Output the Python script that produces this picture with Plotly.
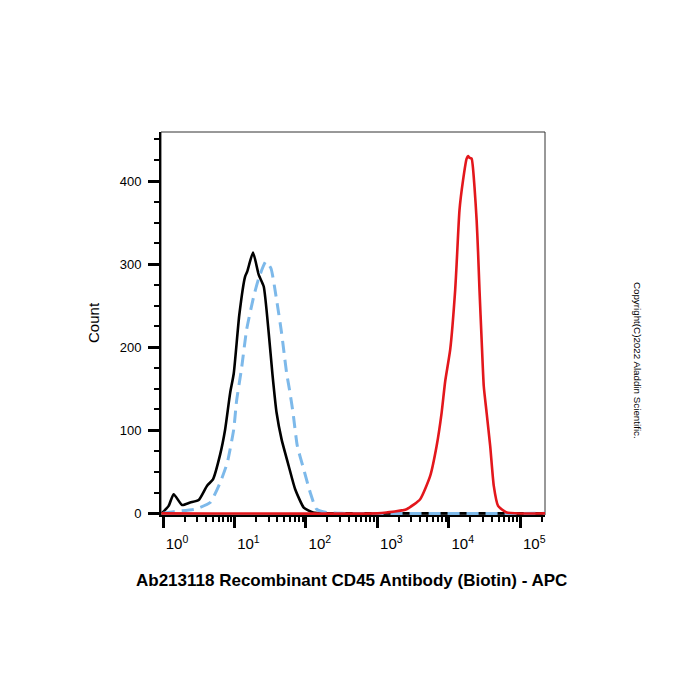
import plotly.graph_objects as go

# ---- data ----
black_x = [0.96, 1.2, 1.41, 1.85, 2.4, 3.16, 4.12, 5.01, 6.31, 7.41, 8.71, 9.77, 11.7, 14.1, 15.1,
           18.2, 21.9, 25.7, 30.2, 34.0, 38.9, 45.7, 57.5, 70.8, 93.3, 126, 200, 1000, 5000, 20000, 224000]
black_y = [0, 9, 23, 10, 13, 16, 33, 41, 71, 101, 145, 168, 239, 285, 291,
           314, 287, 273, 217, 168, 121, 89, 57, 29, 7, 1, 0, 0, 0, 0, 0]

blue_x = [1.0, 1.41, 2.82, 4.57, 6.31, 7.94, 9.77, 10.7, 12.6, 14.8, 18.6, 21.9, 27.5, 32.4,
          38.9, 45.7, 53.7, 58.9, 66.1, 75.9, 93.3, 115, 141, 195, 316, 224000]
blue_y = [0, 2, 5, 13, 37, 61, 101, 135, 175, 221, 261, 283, 303, 295,
          257, 217, 169, 149, 121, 81, 53, 25, 5, 1, 0, 0]

red_x = [0.95, 1000, 1349, 2570, 3981, 5495, 6761, 7943, 8913, 10470, 12300, 12880, 14130, 15850,
         17780, 18620, 19500, 20890, 22910, 24550, 25700, 26920, 28840, 30900, 33880, 38020,
         42660, 48980, 64570, 224000]
red_y = [0, 0, 1, 5, 17, 45, 81, 121, 159, 197, 269, 300, 365, 401,
         427, 430, 428, 427, 393, 353, 315, 269, 209, 153, 121, 81,
         33, 9, 1, 0]

x_tickvals = [1, 10, 100, 1000, 10000, 100000]
x_ticktext = ["10<sup>0</sup>", "10<sup>1</sup>", "10<sup>2</sup>", "10<sup>3</sup>",
              "10<sup>4</sup>", "10<sup>5</sup>"]
x_minor_vals = [m * 10 ** k for k in range(-1, 6) for m in range(2, 10)]
y_tickvals = [0, 100, 200, 300, 400]

x_title = "Ab213118 Recombinant CD45 Antibody (Biotin) - APC"
y_title = "Count"
copyright_text = "Copyright(C)2022 Aladdin Scientific."

FONT = "Liberation Sans, Arial, sans-serif"

fig = go.Figure()
fig.add_trace(go.Scatter(x=black_x, y=black_y, mode="lines",
                         line=dict(color="#000000", width=2.6, shape="spline", smoothing=0.5),
                         showlegend=False))
fig.add_trace(go.Scatter(x=blue_x, y=blue_y, mode="lines",
                         line=dict(color="#7db9ea", width=3, dash="12px,7px",
                                   shape="spline", smoothing=0.5),
                         showlegend=False))
fig.add_trace(go.Scatter(x=red_x, y=red_y, mode="lines",
                         line=dict(color="#e3171c", width=2.6, shape="spline", smoothing=0.5),
                         showlegend=False))

fig.update_layout(
    width=700, height=700,
    margin=dict(l=161, r=155, t=132, b=185),
    paper_bgcolor="white", plot_bgcolor="white",
    font=dict(family=FONT, color="black"),
    xaxis=dict(
        type="log", range=[-0.028, 5.347],
        showline=True, linecolor="black", linewidth=2,
        showgrid=False, zeroline=False,
        tickmode="array", tickvals=x_tickvals, ticktext=x_ticktext,
        ticks="outside", ticklen=11, tickwidth=3, tickcolor="black",
        tickfont=dict(size=15, family=FONT),
        ticklabelshift=14, ticklabelstandoff=3,
        minor=dict(tickmode="array", tickvals=x_minor_vals, ticks="outside",
                   ticklen=5, tickwidth=1.5, tickcolor="black", showgrid=False),
    ),
    yaxis=dict(
        range=[-2, 459],
        showline=True, linecolor="black", linewidth=2,
        showgrid=False, zeroline=False,
        tickmode="array", tickvals=y_tickvals,
        ticks="outside", ticklen=11, tickwidth=3, tickcolor="black",
        tickfont=dict(size=13, family=FONT),
        ticklabelstandoff=4,
        minor=dict(dtick=25, ticks="outside", ticklen=5, tickwidth=1.5,
                   tickcolor="black", showgrid=False),
    ),
    shapes=[dict(type="rect", xref="paper", yref="paper", x0=0, y0=0, x1=1, y1=1,
                 line=dict(color="#333333", width=1), layer="below")],
    annotations=[
        dict(text=y_title, xref="paper", yref="paper", x=-0.1745, y=0.504,
             textangle=-90, showarrow=False, font=dict(size=15, family=FONT),
             xanchor="center", yanchor="middle"),
        dict(text="<b>" + x_title + "</b>", xref="paper", yref="paper", x=0.497, y=-0.17,
             showarrow=False, font=dict(size=17, family=FONT),
             xanchor="center", yanchor="middle"),
        dict(text=copyright_text, xref="paper", yref="paper", x=1.2396, y=0.405,
             textangle=90, showarrow=False, font=dict(size=9.8, family=FONT),
             xanchor="center", yanchor="middle"),
    ],
)

fig.write_html("out.html")
